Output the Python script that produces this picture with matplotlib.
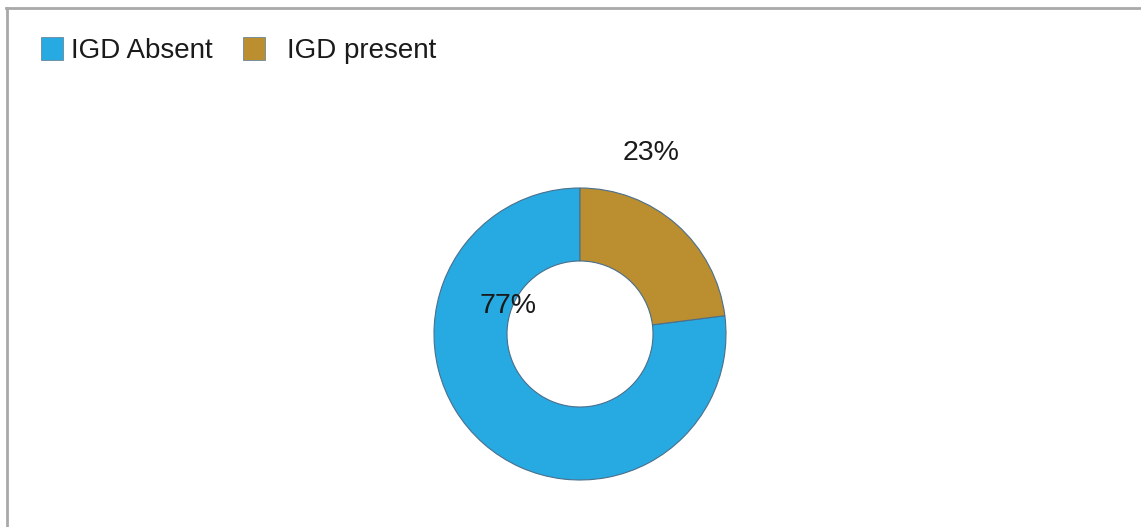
import matplotlib
matplotlib.use("Agg")
from matplotlib import pyplot as plt
from matplotlib.patches import Rectangle
from matplotlib.lines import Line2D

plt.rcParams['font.family'] = ['Liberation Sans', 'DejaVu Sans']

labels = ['IGD Absent', 'IGD present']
values = [77, 23]
pct_labels = ['77%', '23%']
colors = ['#27aae1', '#bb8e30']

W, H = 1141, 527
fig = plt.figure(figsize=(W / 100, H / 100), dpi=100)

# donut: centre (580, 334) px, outer radius 146 px
cx, cy, r = 580, 334, 146
ax = fig.add_axes([(cx - r) / W, (H - cy - r) / H, 2 * r / W, 2 * r / H])

start = 90 - values[1] / sum(values) * 360
ax.pie(values, colors=colors, startangle=start, counterclock=False,
       wedgeprops=dict(width=0.5, edgecolor='#4a6f8c', linewidth=0.8))
ax.set_xlim(-1, 1)
ax.set_ylim(-1, 1)
ax.set_aspect('equal')
ax.axis('off')

# percentage labels (placed like the original, not on the wedges)
label_pos = [(-0.49, 0.19), (0.49, 1.24)]
for (x, y), t in zip(label_pos, pct_labels):
    ax.text(x, y, t, ha='center', va='center', fontsize=20.5, color='#1a1a1a',
            clip_on=False)

# legend drawn by hand
legend_items = [(41, 71), (243, 287)]
for (bx, tx), lab, c in zip(legend_items, labels, colors):
    fig.add_artist(Rectangle((bx / W, (H - 60) / H), 22 / W, 23 / H,
                             transform=fig.transFigure, facecolor=c,
                             edgecolor='#6a8799', linewidth=0.6))
    fig.text(tx / W, (H - 51) / H, lab, ha='left', va='center',
             fontsize=20, color='#1a1a1a')

# frame: left and top edges only
fig.add_artist(Line2D([7 / W, 7 / W], [0, (H - 8) / H], color='#a9a9a9', lw=2,
                      transform=fig.transFigure))
fig.add_artist(Line2D([6 / W, 1], [(H - 8) / H, (H - 8) / H], color='#a9a9a9',
                      lw=2, transform=fig.transFigure))

fig.savefig('out.png', dpi=100, facecolor='white')
